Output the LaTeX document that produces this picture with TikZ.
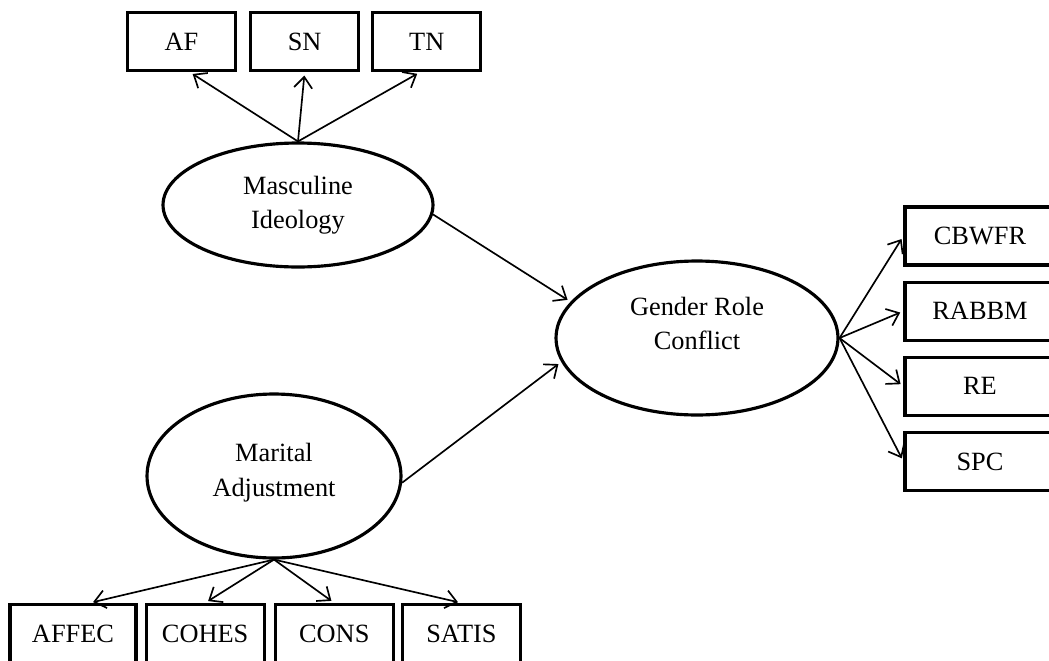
\documentclass[tikz,border=0pt]{standalone}
\usepackage{fontspec}
\setmainfont{Liberation Serif}
\usetikzlibrary{shapes.geometric,positioning,arrows.meta}
\begin{document}
\begin{tikzpicture}[x=0.02cm,y=-0.02cm,
  latent/.style={ellipse,draw,line width=1.8pt,align=center,inner sep=0pt,font=\fontsize{15}{19.5}\selectfont},
  obs/.style={rectangle,draw,line width=1.8pt,minimum height=1.16cm,inner sep=0pt,font=\fontsize{15}{18}\selectfont},
  arr/.style={-{Straight Barb[length=0.22cm,width=0.36cm]},line width=0.95pt,shorten >=2pt}]
        \clip (0,0) rectangle (1049,660);
        % latent variables
        \node[latent,minimum width=5.4cm,minimum height=2.48cm,text depth=0.1cm] (mi) at (298,205) {Masculine\\Ideology};
        \node[latent,minimum width=5.08cm,minimum height=3.28cm,text depth=0.25cm] (ma) at (274,476) {Marital\\Adjustment};
        \node[latent,minimum width=5.64cm,minimum height=3.08cm,text depth=0.6cm] (grc) at (697,338) {Gender Role\\Conflict};

        % indicators
        \node[obs,minimum width=2.16cm] (af) at (181.5,41.5) {AF};
        \node[obs,minimum width=2.16cm] (sn) [right=0.24cm of af] {SN};
        \node[obs,minimum width=2.16cm] (tn) [right=0.22cm of sn] {TN};

        \node[obs,minimum width=3cm] (cbwfr) at (980,236) {CBWFR};
        \node[obs,minimum width=3cm] (rabbm) [below=0.28cm of cbwfr] {RABBM};
        \node[obs,minimum width=3cm] (re) [below=0.28cm of rabbm] {RE};
        \node[obs,minimum width=3cm] (spc) [below=0.28cm of re] {SPC};

        \node[obs,minimum width=2.52cm,minimum height=1.3cm,text depth=0.12cm] (affec) at (73,637) {AFFEC};
        \node[obs,minimum width=2.36cm,minimum height=1.3cm,text depth=0.12cm] (cohes) [right=0.14cm of affec] {COHES};
        \node[obs,minimum width=2.36cm,minimum height=1.3cm,text depth=0.12cm] (cons) [right=0.16cm of cohes] {CONS};
        \node[obs,minimum width=2.36cm,minimum height=1.3cm,text depth=0.12cm] (satis) [right=0.12cm of cons] {SATIS};

        \draw[arr] (mi.north) -- (af.-75);
        \draw[arr] (mi.north) -- (sn.south);
        \draw[arr] (mi.north) -- (tn.-102);

        \draw[arr] (ma.south) -- (affec.64);
        \draw[arr] (ma.south) -- (cohes.north);
        \draw[arr] (ma.south) -- (cons.north);
        \draw[arr] (ma.south) -- (satis.north);

        \draw[arr] (mi.-4) -- (grc.164);
        \draw[arr] (ma.-3) -- (grc.190);

        \draw[arr] (grc.east) -- (cbwfr.west);
        \draw[arr] (grc.east) -- (rabbm.west);
        \draw[arr] (grc.east) -- (re.west);
        \draw[arr] (grc.east) -- (spc.west);
    \end{tikzpicture}
\end{document}
